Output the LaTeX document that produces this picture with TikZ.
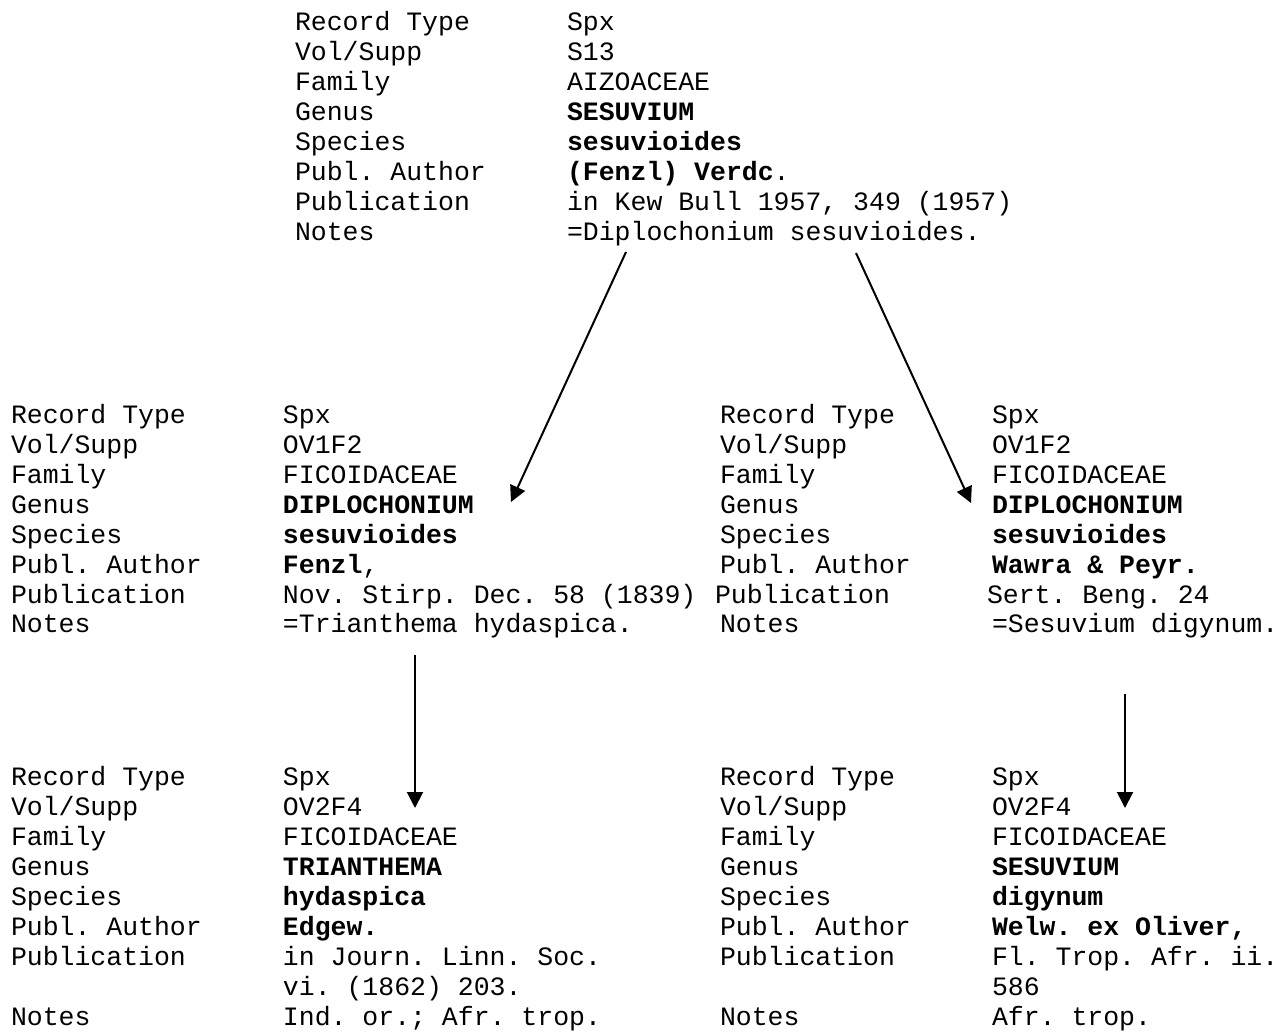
\documentclass[tikz,border=0pt]{standalone}
\usepackage{fontspec}
\setmonofont{Liberation Mono}
\usetikzlibrary{arrows.meta}
\tikzset{
  rec/.style={anchor=north west, inner sep=0pt, outer sep=0pt,
    font=\ttfamily\fontsize{26.5}{30}\selectfont},
  link/.style={line width=2pt, -{Triangle[length=16pt,width=16pt]}}
}
\newcommand{\lab}[1]{\makebox[272pt][l]{#1}}
\begin{document}
\begin{tikzpicture}[x=1pt,y=-1pt]
\useasboundingbox (0,0) rectangle (1286,1032);
% top record
\node[rec] (top) at (295,10) {\begin{tabular}{@{}l@{}l@{}}
\lab{Record Type} & Spx\\
\lab{Vol/Supp} & S13\\
\lab{Family} & AIZOACEAE\\
\lab{Genus} & \textbf{SESUVIUM}\\
\lab{Species} & \textbf{sesuvioides}\\
\lab{Publ. Author} & \textbf{(Fenzl) Verdc}.\\
\lab{Publication} & in Kew Bull 1957, 349 (1957)\\
\lab{Notes} & =Diplochonium sesuvioides.
\end{tabular}};
% middle left
\node[rec] (ml) at (11,402) {\begin{tabular}{@{}l@{}l@{}}
\lab{Record Type} & Spx\\
\lab{Vol/Supp} & OV1F2\\
\lab{Family} & FICOIDACEAE\\
\lab{Genus} & \textbf{DIPLOCHONIUM}\\
\lab{Species} & \textbf{sesuvioides}\\
\lab{Publ. Author} & \textbf{Fenzl},\\
\lab{Publication} & Nov. Stirp. Dec. 58 (1839)\\
\lab{Notes} & =Trianthema hydaspica.
\end{tabular}};
% middle right
\node[rec] (mr) at (720,402) {\begin{tabular}{@{}l@{}l@{}}
\lab{Record Type} & Spx\\
\lab{Vol/Supp} & OV1F2\\
\lab{Family} & FICOIDACEAE\\
\lab{Genus} & \textbf{DIPLOCHONIUM}\\
\lab{Species} & \textbf{sesuvioides}\\
\lab{Publ. Author} & \textbf{Wawra \& Peyr.}\\
\lab{\hspace*{-5pt}Publication} & \hspace*{-5pt}Sert. Beng. 24\\
\lab{Notes} & =Sesuvium digynum.
\end{tabular}};
% bottom left
\node[rec] (bl) at (11,764) {\begin{tabular}{@{}l@{}l@{}}
\lab{Record Type} & Spx\\
\lab{Vol/Supp} & OV2F4\\
\lab{Family} & FICOIDACEAE\\
\lab{Genus} & \textbf{TRIANTHEMA}\\
\lab{Species} & \textbf{hydaspica}\\
\lab{Publ. Author} & \textbf{Edgew.}\\
\lab{Publication} & in Journ. Linn. Soc.\\
\lab{} & vi. (1862) 203.\\
\lab{Notes} & Ind. or.; Afr. trop.
\end{tabular}};
% bottom right
\node[rec] (br) at (720,764) {\begin{tabular}{@{}l@{}l@{}}
\lab{Record Type} & Spx\\
\lab{Vol/Supp} & OV2F4\\
\lab{Family} & FICOIDACEAE\\
\lab{Genus} & \textbf{SESUVIUM}\\
\lab{Species} & \textbf{digynum}\\
\lab{Publ. Author} & \textbf{Welw. ex Oliver,}\\
\lab{Publication} & Fl. Trop. Afr. ii.\\
\lab{} & 586\\
\lab{Notes} & Afr. trop.
\end{tabular}};
% arrow end points
\coordinate (a1s) at (626,252);
\coordinate (a1e) at (511,502);
\coordinate (a2s) at (856,253);
\coordinate (a2e) at (971,503);
\coordinate (a3s) at (415,655);
\coordinate (a3e) at (415,808);
\coordinate (a4s) at (1125,694);
\coordinate (a4e) at (1125,808);
\draw[link] (a1s) -- (a1e);
\draw[link] (a2s) -- (a2e);
\draw[link] (a3s) -- (a3e);
\draw[link] (a4s) -- (a4e);
\end{tikzpicture}
\end{document}
